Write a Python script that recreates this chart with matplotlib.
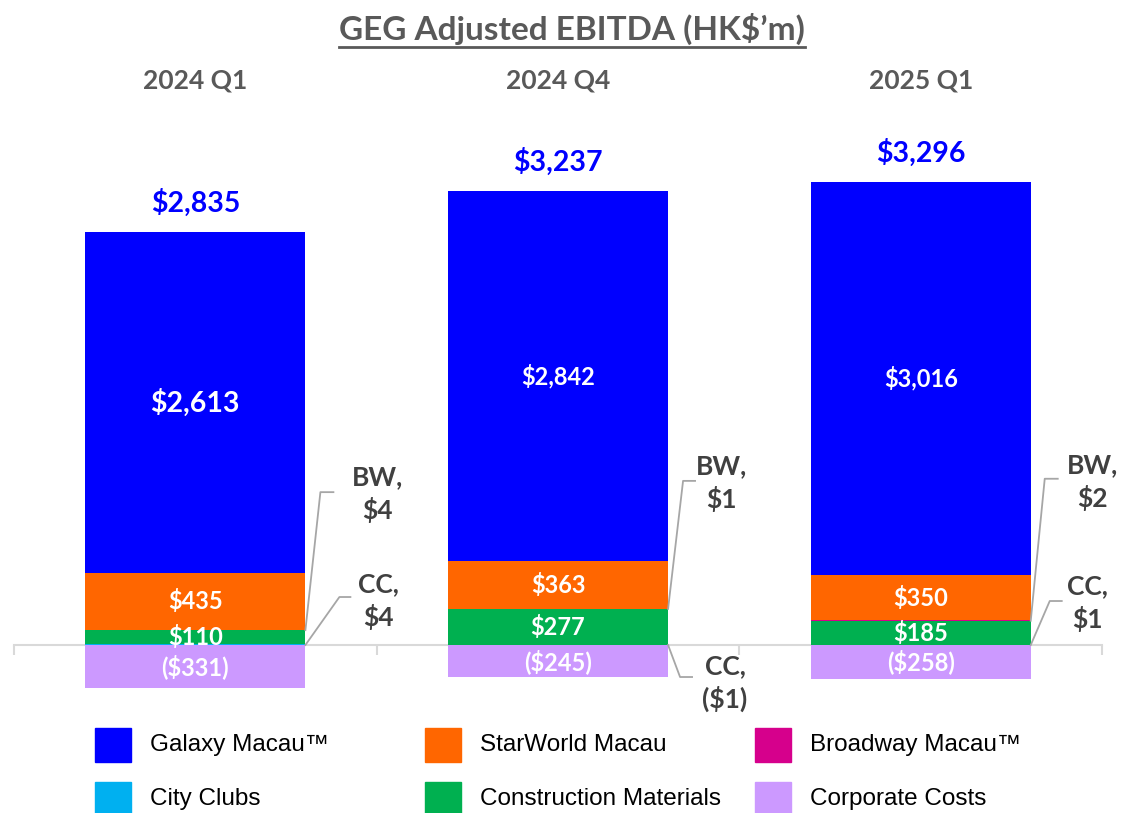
import matplotlib.pyplot as plt
from matplotlib.lines import Line2D
from matplotlib.patches import Rectangle
from matplotlib.transforms import blended_transform_factory

# data (HK$ m)
quarters = ['2024 Q1', '2024 Q4', '2025 Q1']
galaxy = [2613, 2842, 3016]
starworld = [435, 363, 350]
broadway = [4, 1, 2]
city_clubs = [4, -1, 1]
construction = [110, 277, 185]
corporate = [-331, -245, -258]
totals = [2835, 3237, 3296]

legend_names = ['Galaxy Macau™', 'StarWorld Macau', 'Broadway Macau™',
                'City Clubs', 'Construction Materials', 'Corporate Costs']
colors = {'Galaxy Macau™': '#0000FF', 'StarWorld Macau': '#FF6600',
          'Broadway Macau™': '#D6008C', 'City Clubs': '#00B0F0',
          'Construction Materials': '#00B050', 'Corporate Costs': '#CC99FF'}

FONT = 'Lato'
GRAY = '#595959'
DARK = '#404040'

def money(v):
    return f'(${-v:,})' if v < 0 else f'${v:,}'

fig = plt.figure(figsize=(11.22, 8.13), dpi=100)
ax = fig.add_axes([14 / 1122, 93 / 813, 1088 / 1122, 590 / 813])
ax.set_xlim(-0.5, 2.5)
ax.set_ylim(-575, 3949)

# stacking order from the baseline outward
series = [('City Clubs', city_clubs), ('Construction Materials', construction),
          ('Broadway Macau™', broadway), ('StarWorld Macau', starworld),
          ('Galaxy Macau™', galaxy), ('Corporate Costs', corporate)]
width = 0.607
pos_base = [0] * 3
neg_base = [0] * 3
bases = {}
for name, vals in series:
    b = [pos_base[i] if v >= 0 else neg_base[i] for i, v in enumerate(vals)]
    bases[name] = b
    ax.bar(range(3), vals, width, bottom=b, color=colors[name], zorder=3,
           linewidth=0)
    for i, v in enumerate(vals):
        if v >= 0:
            pos_base[i] += v
        else:
            neg_base[i] += v

# labels inside segments
inner = [('Galaxy Macau™', galaxy), ('StarWorld Macau', starworld),
         ('Construction Materials', construction), ('Corporate Costs', corporate)]
for name, vals in inner:
    for i, v in enumerate(vals):
        size = 20.5 if (name == 'Galaxy Macau™' and i == 0) else 17
        ax.text(i, bases[name][i] + v / 2, money(v), ha='center', va='center',
                color='white', fontsize=size, fontweight='bold', family=FONT, zorder=5)

# totals above
for i, t in enumerate(totals):
    ax.annotate(money(t), (i, pos_base[i]), xytext=(0, 21), textcoords='offset points',
                ha='center', va='center', color='#0000FF', fontsize=20.5,
                fontweight='bold', family=FONT)

# baseline with boundary ticks
ax.spines['bottom'].set_position(('data', 0))
ax.spines['bottom'].set_color('#D9D9D9')
ax.spines['bottom'].set_linewidth(1.5)
for s in ['left', 'right', 'top']:
    ax.spines[s].set_visible(False)
ax.set_yticks([])
ax.set_xticks([-0.5, 0.5, 1.5, 2.5])
ax.set_xticklabels([])
ax.tick_params(axis='x', length=7, width=1.5, color='#D9D9D9', direction='out')

# category headers
trans = blended_transform_factory(ax.transData, fig.transFigure)
for i, q in enumerate(quarters):
    ax.text(i, 1 - 80 / 813, q, transform=trans, ha='center', va='center',
            color=GRAY, fontsize=19, fontweight='bold', family=FONT)

# callouts for tiny segments (BW = Broadway, CC = City Clubs)
callouts = [('BW', broadway), ('CC', city_clubs)]
# pixel offsets: elbow dx, elbow dy, end dx, text dx, text dy
offsets = {
    ('BW', 0): (15, 138, 28, 72, 136), ('CC', 0): (34, 48, 45, 73, 44),
    ('BW', 1): (15, 128, 27, 53, 126), ('CC', 1): (12, -32, 24, 57, -38),
    ('BW', 2): (14, 142, 27, 62, 139), ('CC', 2): (19, 44, 31, 57, 42),
}
name_of = {'BW': 'Broadway Macau™', 'CC': 'City Clubs'}
fig.canvas.draw()
inv = ax.transData.inverted()
for tag, vals in callouts:
    for i, v in enumerate(vals):
        ex, ey, endx, tx, ty = offsets[(tag, i)]
        ax_px, ay_px = ax.transData.transform((i + width / 2, bases[name_of[tag]][i]))
        pts = inv.transform([(ax_px, ay_px), (ax_px + ex, ay_px + ey), (ax_px + endx, ay_px + ey)])
        ax.plot(pts[:, 0], pts[:, 1], color='#A6A6A6', lw=1.3, zorder=4, clip_on=False)
        tpos = inv.transform((ax_px + tx, ay_px + ty))
        ax.text(tpos[0], tpos[1], f'{tag},\n{money(v)}', ha='center', va='center',
                color=DARK, fontsize=19, fontweight='bold', family=FONT,
                linespacing=1.35, clip_on=False)

# title with underline
title = fig.text(0.5098, 1 - 29 / 813, 'GEG Adjusted EBITDA (HK$’m)', ha='center',
                 va='center', color=GRAY, fontsize=24, fontweight='bold', family=FONT)
fig.canvas.draw()
bb = title.get_window_extent().transformed(fig.transFigure.inverted())
fig.add_artist(Line2D([bb.x0, bb.x1], [1 - 47 / 813] * 2, color=GRAY, lw=2,
                      transform=fig.transFigure))

# legend drawn by hand: 3 columns, 2 rows
col_x = [95, 425, 755]
row_y = [745, 799]
for k, name in enumerate(legend_names):
    x = col_x[k % 3]
    y = row_y[k // 3]
    fig.add_artist(Rectangle((x / 1122, 1 - (y + 17) / 813), 36 / 1122, 34 / 813,
                             color=colors[name], transform=fig.transFigure))
    fig.text((x + 55) / 1122, 1 - y / 813, name, ha='left', va='center',
             color='black', fontsize=17.5,
             family=['Liberation Sans Narrow', 'Liberation Sans', 'DejaVu Sans'])

fig.savefig('out.png', dpi=100)
